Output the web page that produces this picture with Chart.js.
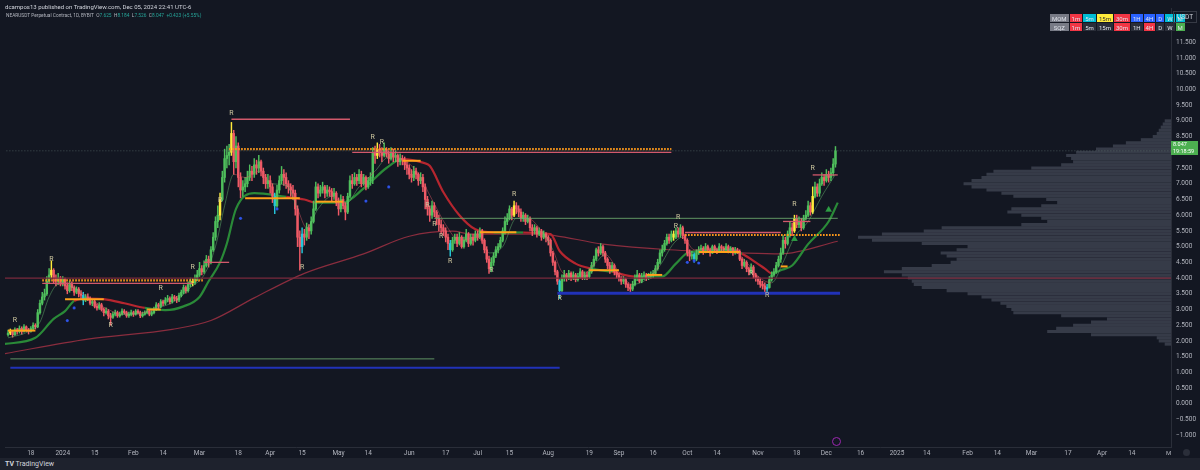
<!DOCTYPE html>
<html>
<head>
<meta charset="utf-8">
<script src="https://cdn.jsdelivr.net/npm/chart.js@4.4.1/dist/chart.umd.min.js"></script>
<style>
  html, body { margin: 0; padding: 0; background: #131722; }
  #wrap { position: relative; width: 1200px; height: 470px; overflow: hidden; background: #131722; font-family: Roboto, 'Liberation Sans', sans-serif; }
  #chart { position: absolute; left: 0; top: 0; }
  .txt { position: absolute; white-space: nowrap; color: #d1d4dc; }
  #footer { position: absolute; left: 0; top: 458px; width: 1200px; height: 12px; background: #1e222d; }
  #tbl { position: absolute; left: 1049px; top: 13px; border-collapse: separate; border-spacing: 1px; font-size: 6px; }
  #tbl td { height: 8px; padding: 0 2px; text-align: center; color: #e0e3eb; }
  #lastBox { position: absolute; left: 1171px; top: 141px; width: 25px; height: 14px; background: #4caf50; color: #fff; font-size: 5.5px; line-height: 7px; padding-left: 2px; }
</style>
</head>
<body>
<div id="wrap">
  <canvas id="chart" width="1200" height="458"></canvas>
  <div class="txt" style="left:5px;top:3px;font-size:6px;">dcampos13 published on TradingView.com, Dec 05, 2024 22:41 UTC-6</div>
  <div class="txt" style="left:6px;top:13px;font-size:4.8px;color:#b2b5be;">NEARUSDT Perpetual Contract, 1D, BYBIT&nbsp;&nbsp;O<span style="color:#26a69a">7.625</span>&nbsp;&nbsp;H<span style="color:#26a69a">8.184</span>&nbsp;&nbsp;L<span style="color:#26a69a">7.526</span>&nbsp;&nbsp;C<span style="color:#26a69a">8.047</span>&nbsp;&nbsp;<span style="color:#26a69a">+0.423 (+5.55%)</span></div>
  <table id="tbl">
    <tr>
      <td style="background:#787b86">MOM</td><td style="background:#f23645">1m</td><td style="background:#00bcd4">5m</td><td style="background:#ffeb3b;color:#333">15m</td><td style="background:#f23645">30m</td><td style="background:#2962ff">1H</td><td style="background:#2962ff">4H</td><td style="background:#2962ff">D</td><td style="background:#00bcd4">W</td><td style="background:#00bcd4">M</td>
    </tr>
    <tr>
      <td style="background:#787b86">SQZ</td><td style="background:#f23645">1m</td><td style="background:#2a2e39">5m</td><td style="background:#2a2e39">15m</td><td style="background:#f23645">30m</td><td style="background:#2a2e39">1H</td><td style="background:#f23645">4H</td><td style="background:#2a2e39">D</td><td style="background:#2a2e39">W</td><td style="background:#4caf50">M</td>
    </tr>
  </table>
  <div class="txt" style="left:1173px;top:11px;font-size:6.5px;border:1px solid #363a45;padding:1px 3px;">USDT</div>
  <div id="lastBox">8.047<br>19:18:59</div>
  <div class="txt" style="left:1166px;top:449px;font-size:6px;color:#b2b5be;">M</div>
  <div style="position:absolute;left:1183px;top:449px;width:7px;height:7px;border-radius:50%;background:#2a2e39;"></div>
  <div style="position:absolute;left:832px;top:437px;width:7px;height:7px;border-radius:50%;border:1px solid #9c27b0;"></div>
  <div id="footer"><div class="txt" style="left:5px;top:2px;font-size:7px;"><b>TV</b> TradingView</div></div>
</div>
<script>
// daily candles, first one is Dec 8 2023 (day 0 = Jan 1 2024)
const firstDay = -24;
const firstOpen = 2.20;
const closes = [
  2.25,2.30,2.20,2.35,2.30,2.40,2.30,2.45,2.35,2.30,2.40,2.50,2.45,2.90,3.20,3.40,3.50,3.90,4.10,4.25,4.00,3.90,4.00,3.85,
  3.95,3.75,3.60,3.80,3.70,3.55,3.65,3.50,3.45,3.30,
  3.40,3.35,3.20,3.25,3.10,3.05,3.15,3.00,2.90,2.95,
  2.80,2.75,2.85,2.90,2.80,2.85,2.95,2.90,2.80,2.85,
  2.90,2.85,2.95,2.90,2.80,2.85,2.90,2.95,2.85,2.90,
  3.00,3.15,3.10,3.25,3.20,3.30,3.35,3.25,3.40,3.35,
  3.30,3.45,3.55,3.70,3.60,3.80,3.90,3.85,4.00,4.10,
  4.30,4.20,4.40,4.60,4.50,4.90,5.30,5.80,6.00,6.50,
  7.20,7.80,7.90,8.00,8.60,7.70,8.20,7.20,6.80,6.90,
  7.00,7.20,7.40,7.30,7.60,7.50,7.70,7.40,7.20,7.00,
  7.10,6.90,6.60,6.30,6.80,7.10,7.30,7.20,7.00,6.90,
  6.80,6.70,6.20,5.30,5.00,5.40,5.30,5.60,5.50,5.80,
  6.20,6.90,6.70,6.80,6.90,6.70,6.80,6.75,6.60,6.70,
  6.40,6.20,6.50,6.30,6.10,6.60,7.10,7.00,7.20,7.10,
  7.30,7.00,7.20,6.90,7.10,7.20,8.00,7.90,8.10,8.00,
  7.90,8.10,7.95,7.80,8.00,7.85,7.90,7.70,7.80,7.75,
  7.60,7.50,7.30,7.20,7.40,7.30,7.10,7.20,6.90,6.50,
  6.20,6.00,6.30,6.10,5.90,5.70,5.60,5.50,5.30,5.10,
  4.90,5.20,5.30,5.10,5.30,5.00,5.20,5.40,5.10,5.30,
  5.20,5.40,5.30,5.50,5.20,4.90,4.60,4.30,4.50,4.70,
  4.90,5.00,5.20,5.50,5.80,5.90,6.20,6.00,6.30,6.20,
  6.10,5.90,6.00,5.80,5.90,5.60,5.50,5.60,5.40,5.50,
  5.30,5.40,5.30,5.20,4.80,4.50,4.20,3.90,3.60,4.00,
  4.10,4.00,4.15,4.00,4.10,3.95,4.05,4.20,4.00,4.10,
  4.05,4.20,4.40,4.60,4.90,4.80,5.00,4.80,4.60,4.40,
  4.30,4.40,4.20,4.10,4.00,3.90,3.95,3.80,3.70,3.65,
  3.80,4.00,4.10,3.90,4.05,4.10,4.00,4.05,4.10,4.15,
  4.30,4.50,4.80,4.90,5.10,5.30,5.20,5.40,5.30,5.50,
  5.40,5.60,5.35,5.20,4.80,4.70,4.75,4.60,4.80,4.90,
  4.95,4.85,5.00,4.90,4.80,5.00,4.90,4.85,5.00,4.95,
  4.90,5.00,4.85,4.95,4.80,4.90,4.85,4.60,4.40,4.50,
  4.30,4.20,4.35,4.10,4.00,3.90,3.80,3.75,3.65,3.70,
  3.95,4.10,4.20,4.40,4.60,4.80,5.20,5.10,5.40,5.60,
  5.50,5.90,5.70,5.80,5.60,5.90,6.00,6.30,6.10,6.60,
  6.90,6.70,7.00,7.20,7.10,7.30,7.20,7.35,7.625,8.047
];
const highs = [
  2.35,2.38,2.33,2.42,2.40,2.48,2.45,2.52,2.48,2.40,2.46,2.58,2.55,3.00,3.30,3.55,3.65,4.05,4.30,4.55,4.30,4.10,4.15,4.05,
  4.05,4.00,3.85,3.90,3.88,3.75,3.72,3.70,3.60,3.55,
  3.48,3.50,3.40,3.32,3.30,3.18,3.22,3.20,3.05,3.05,
  3.00,2.88,2.92,2.98,2.95,2.92,3.02,3.00,2.95,2.92,
  2.98,2.95,3.00,3.00,2.95,2.92,2.96,3.02,2.98,2.96,
  3.08,3.22,3.20,3.32,3.30,3.38,3.45,3.40,3.48,3.45,
  3.42,3.52,3.62,3.78,3.75,3.88,4.00,3.98,4.10,4.25,
  4.50,4.40,4.55,4.72,4.70,5.00,5.45,5.95,6.30,6.70,
  7.40,8.10,8.20,8.25,8.95,8.70,8.50,8.30,7.35,7.10,
  7.20,7.40,7.60,7.55,7.80,7.75,7.90,7.75,7.50,7.30,
  7.30,7.25,7.00,6.70,6.95,7.25,7.55,7.45,7.35,7.10,
  7.00,6.95,6.80,6.30,5.50,5.60,5.55,5.75,5.70,5.95,
  6.45,7.05,7.00,6.95,7.05,6.95,6.95,6.90,6.85,6.85,
  6.75,6.55,6.65,6.60,6.40,6.70,7.25,7.30,7.35,7.30,
  7.45,7.40,7.30,7.25,7.20,7.35,8.15,8.20,8.30,8.25,
  8.15,8.30,8.15,8.05,8.15,8.10,8.05,7.95,7.95,7.90,
  7.85,7.70,7.60,7.45,7.55,7.50,7.35,7.35,7.30,7.00,
  6.60,6.30,6.45,6.40,6.15,6.00,5.85,5.70,5.60,5.40,
  5.20,5.30,5.40,5.40,5.45,5.35,5.30,5.55,5.45,5.40,
  5.40,5.50,5.50,5.60,5.55,5.25,5.00,4.70,4.65,4.80,
  5.00,5.10,5.30,5.60,5.95,6.05,6.30,6.25,6.45,6.40,
  6.30,6.20,6.10,6.05,6.00,5.95,5.70,5.70,5.65,5.60,
  5.55,5.50,5.45,5.35,5.25,4.85,4.55,4.25,3.95,4.10,
  4.25,4.15,4.25,4.20,4.20,4.15,4.15,4.30,4.25,4.20,
  4.20,4.30,4.50,4.70,4.95,5.00,5.10,5.05,4.85,4.65,
  4.50,4.50,4.45,4.25,4.15,4.05,4.05,4.00,3.85,3.80,
  3.90,4.10,4.25,4.15,4.15,4.20,4.15,4.15,4.20,4.25,
  4.40,4.60,4.90,5.05,5.20,5.40,5.40,5.50,5.50,5.60,
  5.60,5.70,5.65,5.40,5.25,4.90,4.85,4.80,4.90,5.00,
  5.05,5.00,5.10,5.05,4.95,5.05,5.05,4.95,5.10,5.05,
  5.00,5.10,5.05,5.00,4.98,4.98,4.95,4.90,4.65,4.60,
  4.55,4.35,4.45,4.40,4.15,4.05,4.00,3.90,3.85,3.80,
  4.05,4.20,4.30,4.50,4.70,4.95,5.35,5.30,5.50,5.80,
  5.75,6.00,6.00,5.95,5.90,6.00,6.15,6.45,6.40,6.90,
  7.05,7.00,7.15,7.35,7.30,7.45,7.40,7.50,7.80,8.184
];
const lows = [
  2.15,2.20,2.12,2.18,2.22,2.25,2.22,2.28,2.30,2.22,2.28,2.36,2.38,2.42,2.85,3.15,3.30,3.45,3.85,4.00,3.85,3.75,3.80,3.75,
  3.75,3.65,3.50,3.55,3.60,3.45,3.50,3.40,3.35,3.15,
  3.25,3.28,3.15,3.12,3.05,2.98,3.00,2.95,2.80,2.85,
  2.70,2.50,2.72,2.80,2.75,2.76,2.82,2.85,2.75,2.75,
  2.80,2.78,2.82,2.85,2.74,2.76,2.82,2.86,2.80,2.80,
  2.86,2.96,3.02,3.06,3.12,3.15,3.24,3.18,3.20,3.28,
  3.22,3.25,3.40,3.50,3.52,3.55,3.72,3.75,3.80,3.92,
  4.05,4.10,4.15,4.35,4.35,4.45,4.85,5.20,5.60,5.85,
  6.45,7.05,7.50,7.60,7.90,7.30,7.50,6.90,6.55,6.60,
  6.75,6.90,7.10,7.10,7.20,7.30,7.35,7.25,7.00,6.85,
  6.85,6.70,6.40,6.05,6.25,6.70,7.00,6.95,6.85,6.70,
  6.60,6.50,6.00,5.00,4.25,4.80,5.05,5.20,5.25,5.40,
  5.75,6.15,6.55,6.60,6.70,6.55,6.60,6.60,6.45,6.50,
  6.30,6.00,6.10,6.20,5.85,6.05,6.55,6.85,6.95,6.95,
  7.00,6.90,6.95,6.80,6.85,6.95,7.00,7.65,7.80,7.85,
  7.70,7.85,7.85,7.65,7.75,7.70,7.70,7.55,7.60,7.60,
  7.45,7.30,7.15,7.05,7.10,7.15,6.95,7.00,6.75,6.20,
  6.00,5.80,5.90,5.95,5.70,5.50,5.40,5.35,5.15,4.90,
  4.70,4.85,5.10,5.00,5.05,4.95,4.95,5.15,5.00,5.05,
  5.05,5.15,5.20,5.25,5.10,4.80,4.50,4.15,4.20,4.40,
  4.65,4.80,4.95,5.15,5.40,5.70,5.85,5.85,5.95,6.05,
  5.95,5.80,5.80,5.70,5.75,5.50,5.35,5.40,5.30,5.35,
  5.20,5.25,5.15,5.05,4.70,4.40,4.10,3.80,3.35,3.55,
  3.90,3.90,3.95,3.92,3.95,3.88,3.90,4.00,3.95,3.95,
  3.95,4.00,4.15,4.35,4.55,4.70,4.75,4.70,4.50,4.30,
  4.15,4.20,4.10,4.00,3.90,3.80,3.82,3.70,3.60,3.55,
  3.60,3.75,3.92,3.85,3.85,3.95,3.92,3.95,3.98,4.02,
  4.10,4.25,4.45,4.70,4.85,5.05,5.10,5.15,5.20,5.25,
  5.30,5.30,5.25,5.10,4.70,4.55,4.60,4.50,4.55,4.75,
  4.80,4.75,4.80,4.82,4.70,4.78,4.85,4.78,4.82,4.85,
  4.82,4.85,4.80,4.80,4.72,4.76,4.78,4.55,4.30,4.35,
  4.20,4.10,4.15,4.00,3.90,3.80,3.70,3.65,3.55,3.55,
  3.68,3.90,4.05,4.15,4.35,4.50,4.75,4.95,5.05,5.30,
  5.35,5.45,5.60,5.60,5.50,5.55,5.85,5.95,6.00,6.05,
  6.55,6.60,6.60,6.95,6.95,7.05,7.05,7.10,7.25,7.526
];
// candles painted by the squeeze/momentum indicator
const yellowDays = [-23, -5, 57, 69, 74, 138, 198, 268, 321, 329];
const cyanDays = [9, 93, 105, 170, 218, 277, 309];

// trend lines (day, price)
const slowDays = [-26,-12,-4,1,5,12,18,27,36,45,53,60,64,69,72,76,84,98,106,111,123,132,142,149,158,161,167,174,181,189,202,214,218,225,232,241,251,263,269,275,286,292,298,304,308,311,315,320,327,336,340];
const slowVals = [1.90,2.10,2.70,2.95,3.27,3.35,3.33,3.20,3.05,2.98,3.10,3.40,3.90,4.50,5.10,6.20,6.70,6.58,6.50,6.40,6.40,6.85,7.50,7.78,7.67,7.57,6.73,6.00,5.55,5.45,5.45,5.40,4.86,4.46,4.30,4.20,4.05,4.05,4.46,4.83,4.86,4.86,4.77,4.50,4.30,4.15,4.25,4.40,5.08,5.80,6.40];
const fastDays = [-24,-15,-10,-6,-2,3,8,14,20,26,34,42,50,56,62,67,71,75,80,86,92,98,103,107,112,118,124,130,137,143,150,156,162,168,174,182,187,193,199,204,210,215,219,226,234,238,244,250,256,262,268,272,277,285,294,300,306,311,316,321,327,333,339];
const fastVals = [2.10,2.30,2.60,3.40,3.80,3.75,3.55,3.25,3.00,2.85,2.88,3.05,3.30,3.70,4.10,5.00,6.30,7.30,7.20,7.40,7.00,6.95,6.20,5.60,6.20,6.60,6.35,6.90,7.40,7.85,7.75,7.30,6.50,5.70,5.20,5.30,4.80,5.00,5.90,5.90,5.50,4.90,4.20,4.00,4.50,4.75,4.20,3.80,3.95,4.40,5.10,5.30,4.90,4.90,4.90,4.50,4.00,3.85,4.50,5.30,5.80,6.60,7.30];
const ma200Days = [-26,11,48,65,84,106,132,152,171,179,208,237,266,298,315,340];
const ma200Vals = [1.59,2.06,2.37,2.65,3.37,4.15,4.77,5.33,5.49,5.40,5.40,5.08,4.90,4.80,4.77,5.17];

// horizontal levels: [price, fromDay, toDay]
const dottedLevels = [[8.10,73,267],[3.93,-9,62],[5.37,273,341]];
const redLevels = [[9.05,74,126],[8.00,127,267],[3.83,-9,57],[4.50,62,73],[5.45,273,315],[7.28,329,340],[5.80,316,328]];
const orangeLevels = [[2.33,-24,-12],[3.33,1,18],[3.00,37,43],[6.54,80,104],[6.43,111,123],[7.73,149,157],[5.46,183,199],[4.25,231,244],[4.10,256,263],[4.83,279,297],[4.37,315,318]];
const greenLevels = [[5.90,163,340],[1.43,-23,163]];
const blueLevels = [[3.52,217,341]];
const blueLevelsThin = [[1.15,-23,218]];
const supportLevel = 4.0;
const lastPrice = 8.047;

// visible range volume profile
const profilePrices = [9.0,8.9,8.8,8.7,8.6,8.5,8.4,8.3,8.2,8.1,8.0,7.9,7.8,7.7,7.6,7.5,7.4,7.3,7.2,7.1,7.0,6.9,6.8,6.7,6.6,6.5,6.4,6.3,6.2,6.1,6.0,5.9,5.8,5.7,5.6,5.5,5.4,5.3,5.2,5.1,5.0,4.9,4.8,4.7,4.6,4.5,4.4,4.3,4.2,4.1,4.0,3.9,3.8,3.7,3.6,3.5,3.4,3.3,3.2,3.1,3.0,2.9,2.8,2.7,2.6,2.5,2.4,2.3,2.2,2.1,2.0,1.9];
const profileVolume = [6,8,10,12,14,18,30,45,58,75,95,105,100,98,110,140,178,185,190,200,208,200,185,170,158,125,114,130,160,164,150,130,124,150,230,248,290,314,300,250,204,215,231,225,215,221,240,270,288,270,264,260,258,250,225,204,190,180,171,165,160,158,110,64,80,98,115,124,80,14,12,6];

// markers [day, price]
const rLabels = [[-21,2.65],[-5,4.6],[21,2.5],[43,3.68],[57,4.33],[69,6.48],[74,9.23],[105,4.36],[136,8.48],[140,8.33],[160,6.33],[163,5.7],[166,5.33],[170,4.52],[188,4.24],[198,6.67],[218,3.37],[269,5.64],[270,5.95],[302,4.15],[309,3.46],[321,6.36],[329,7.48]];
const blueDots = [[2,2.65],[5,3.05],[78,5.9],[94,6.2],[133,6.45],[143,6.9],[274,4.5],[277,4.55],[279,4.48]];
const greenTriangles = [[321,5.24],[336,6.17]];

const tickDays = [-14,0,14,31,44,60,77,91,105,121,134,152,168,182,196,213,231,244,259,274,287,305,322,335,350,366,379,397,410,425,441,456,469];
const tickLabels = ['18','2024','15','Feb','14','Mar','18','Apr','15','May','14','Jun','17','Jul','15','Aug','19','Sep','16','Oct','14','Nov','18','Dec','16','2025','14','Feb','14','Mar','17','Apr','14'];
const priceTicks = [-1,-0.5,0,0.5,1,1.5,2,2.5,3,3.5,4,4.5,5,5.5,6,6.5,7,7.5,8,8.5,9,9.5,10,10.5,11,11.5];

const UP = '#4fbf5c', DOWN = '#ef5a66', YELLOW = '#ffeb3b', CYAN = '#26c6da';

function closeAt(d) {
    const i = Math.max(0, Math.min(closes.length - 1, Math.round(d - firstDay)));
    return closes[i];
}

function trendColor(up, down) {
    return ctx => {
        const x = (ctx.p0.parsed.x + ctx.p1.parsed.x) / 2;
        const y = (ctx.p0.parsed.y + ctx.p1.parsed.y) / 2;
        return y <= closeAt(x) ? up : down;
    };
}

// build candles
const bodies = [], wicks = [], candleColors = [];
for (let i = 0; i < closes.length; i++) {
    const d = firstDay + i;
    const o = i === 0 ? firstOpen : closes[i - 1];
    const c = closes[i];
    bodies.push({ x: d, y: [o, c] });
    wicks.push({ x: d, y: [Math.min(lows[i], o, c), Math.max(highs[i], o, c)] });
    let col = c >= o ? UP : DOWN;
    if (yellowDays.includes(d)) col = YELLOW;
    if (cyanDays.includes(d)) col = CYAN;
    candleColors.push(col);
}

function levelSets(levels, style) {
    return levels.map(l => Object.assign({
        type: 'line',
        data: [{ x: l[1], y: l[0] }, { x: l[2], y: l[0] }],
        pointRadius: 0,
        order: 15
    }, style));
}

const datasets = [
    {
        type: 'bar',
        indexAxis: 'y',
        xAxisID: 'xv',
        yAxisID: 'y',
        data: profilePrices.map((p, i) => ({ x: profileVolume[i], y: p })),
        backgroundColor: 'rgba(98,104,120,0.45)',
        barThickness: 2.4,
        grouped: false,
        order: 100
    },
    {
        type: 'line',
        data: ma200Days.map((d, i) => ({ x: d, y: ma200Vals[i] })),
        borderColor: '#8a2d3e',
        borderWidth: 1.2,
        pointRadius: 0,
        cubicInterpolationMode: 'monotone',
        order: 60
    },
    {
        type: 'line',
        data: slowDays.map((d, i) => ({ x: d, y: slowVals[i] })),
        borderColor: '#2e8b3a',
        borderWidth: 2.2,
        pointRadius: 0,
        cubicInterpolationMode: 'monotone',
        segment: { borderColor: trendColor('#2a8a38', '#b5262f') },
        order: 50
    },
    {
        type: 'bar',
        data: wicks,
        backgroundColor: candleColors,
        barThickness: 0.8,
        grouped: false,
        order: 30
    },
    {
        type: 'bar',
        data: bodies,
        backgroundColor: candleColors,
        barThickness: 1.8,
        minBarLength: 1,
        grouped: false,
        order: 29
    },
    {
        type: 'line',
        data: fastDays.map((d, i) => ({ x: d, y: fastVals[i] })),
        borderColor: 'rgba(120,200,120,0.6)',
        borderWidth: 0.8,
        pointRadius: 0,
        cubicInterpolationMode: 'monotone',
        segment: { borderColor: trendColor('rgba(110,200,120,0.55)', 'rgba(230,90,100,0.55)') },
        order: 25
    },
    {
        type: 'line',
        data: [{ x: -30, y: supportLevel }, { x: 490, y: supportLevel }],
        borderColor: '#7a2a3c',
        borderWidth: 1.2,
        pointRadius: 0,
        order: 14
    },
    {
        type: 'line',
        data: [{ x: -30, y: lastPrice }, { x: 490, y: lastPrice }],
        borderColor: 'rgba(110,130,125,0.55)',
        borderWidth: 1,
        borderDash: [1, 2],
        pointRadius: 0,
        order: 14
    },
    ...levelSets(greenLevels, { borderColor: 'rgba(110,170,110,0.85)', borderWidth: 1 }),
    ...levelSets(blueLevels, { borderColor: '#2132b8', borderWidth: 3 }),
    ...levelSets(blueLevelsThin, { borderColor: '#2132b8', borderWidth: 2 }),
    ...levelSets(redLevels, { borderColor: '#d2596b', borderWidth: 1.3 }),
    ...levelSets(orangeLevels, { borderColor: '#ffa21a', borderWidth: 2 }),
    ...levelSets(dottedLevels, { borderColor: '#ff9a1a', borderWidth: 2.2, borderDash: [1.6, 1.4] }),
    {
        type: 'scatter',
        data: blueDots.map(p => ({ x: p[0], y: p[1] })),
        backgroundColor: '#2f54e8',
        pointRadius: 1.6,
        order: 5
    },
    {
        type: 'scatter',
        data: greenTriangles.map(p => ({ x: p[0], y: p[1] })),
        backgroundColor: '#2e9d45',
        pointStyle: 'triangle',
        pointRadius: 4,
        order: 5
    }
];

const rTextPlugin = {
    id: 'rText',
    afterDatasetsDraw(chart) {
        const { ctx, scales } = chart;
        ctx.save();
        ctx.font = '7px Roboto, sans-serif';
        ctx.fillStyle = '#cfc8a0';
        ctx.textAlign = 'center';
        ctx.textBaseline = 'middle';
        rLabels.forEach(r => {
            ctx.fillText('R', scales.x.getPixelForValue(r[0]), scales.y.getPixelForValue(r[1]));
        });
        ctx.restore();
    }
};

new Chart(document.getElementById('chart').getContext('2d'), {
    type: 'bar',
    data: { datasets: datasets },
    options: {
        responsive: false,
        animation: false,
        layout: { padding: 0 },
        plugins: { legend: { display: false }, tooltip: { enabled: false } },
        scales: {
            x: {
                type: 'linear',
                min: -25.34,
                max: 486.2,
                offset: false,
                grid: { display: false, drawTicks: false },
                border: { display: true, color: '#2a2e39' },
                afterBuildTicks: scale => { scale.ticks = tickDays.map(v => ({ value: v })); },
                afterFit: scale => { scale.height = 11; },
                ticks: {
                    autoSkip: false,
                    maxRotation: 0,
                    padding: 2,
                    color: '#b2b5be',
                    font: { size: 6.5, family: 'Roboto, sans-serif' },
                    callback: (v, i) => tickLabels[i]
                }
            },
            xv: {
                type: 'linear',
                display: false,
                reverse: true,
                min: 0,
                max: 1171,
                offset: false
            },
            y: {
                type: 'linear',
                position: 'right',
                min: -1.372,
                max: 12.56,
                offset: false,
                grid: { display: false, drawTicks: false },
                border: { display: true, color: '#2a2e39' },
                afterBuildTicks: scale => { scale.ticks = priceTicks.map(v => ({ value: v })); },
                afterFit: scale => { scale.width = 29; },
                ticks: {
                    padding: 5,
                    color: '#b2b5be',
                    font: { size: 6.5, family: 'Roboto, sans-serif' },
                    callback: v => (v < 0 ? '\u2212' + Math.abs(v).toFixed(3) : v.toFixed(3))
                }
            }
        }
    },
    plugins: [rTextPlugin]
});
</script>
</body>
</html>
